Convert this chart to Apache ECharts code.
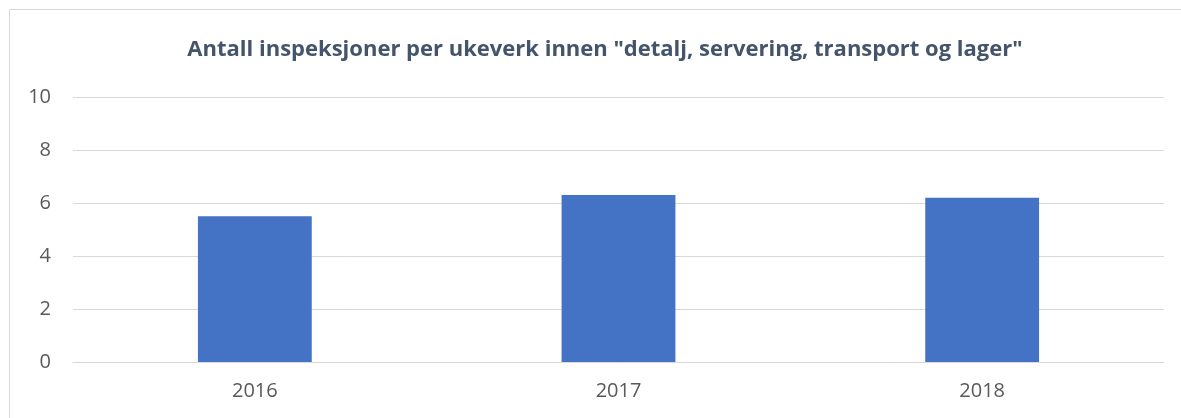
<!DOCTYPE html>
<html>
<head>
<meta charset="utf-8">
<title>Antall inspeksjoner per ukeverk</title>
<script src="https://cdn.jsdelivr.net/npm/echarts@6/dist/echarts.min.js"></script>
<style>
  html, body { margin: 0; padding: 0; background: #fff; overflow: hidden; }
  #chart { width: 1181px; height: 418px; }
</style>
</head>
<body>
<div id="chart"></div>
<script>
// data
const years = ['2016', '2017', '2018']
const inspeksjoner = [5.5, 6.3, 6.2]
const yTicks = [0, 2, 4, 6, 8, 10]

const chart = echarts.init(document.getElementById('chart'))

const option = {
  backgroundColor: '#ffffff',
  animation: false,
  title: {
    text: 'Antall inspeksjoner per ukeverk innen "detalj, servering, transport og lager"',
    left: 600,
    textAlign: 'center',
    top: 34,
    textStyle: {
      fontFamily: 'Open Sans',
      fontWeight: 'bold',
      fontSize: 22,
      color: '#44546A'
    }
  },
  // chart frame: only top and left edges are inside the picture
  graphic: [{
    type: 'polyline',
    shape: { points: [[9.5, 430], [9.5, 9.5], [1190, 9.5]] },
    style: { fill: 'none', stroke: '#d9d9d9', lineWidth: 1 },
    silent: true
  }],
  grid: { left: 73, right: 17, top: 97, bottom: 56 },
  xAxis: {
    type: 'category',
    data: years,
    axisTick: { show: false },
    axisLine: { lineStyle: { color: '#d9d9d9', width: 1 } },
    axisLabel: {
      color: '#595959',
      fontFamily: 'Open Sans',
      fontSize: 20,
      margin: 19
    }
  },
  yAxis: {
    type: 'value',
    min: yTicks[0],
    max: yTicks[yTicks.length - 1],
    interval: yTicks[1] - yTicks[0],
    axisLine: { show: false },
    axisTick: { show: false },
    splitLine: { lineStyle: { color: '#d9d9d9', width: 1 } },
    axisLabel: {
      color: '#595959',
      fontFamily: 'Open Sans',
      fontSize: 20,
      margin: 22
    }
  },
  series: [{
    type: 'bar',
    data: inspeksjoner,
    barWidth: '31.3%',
    itemStyle: { color: '#4472C4' }
  }]
}

chart.setOption(option)
</script>
</body>
</html>
